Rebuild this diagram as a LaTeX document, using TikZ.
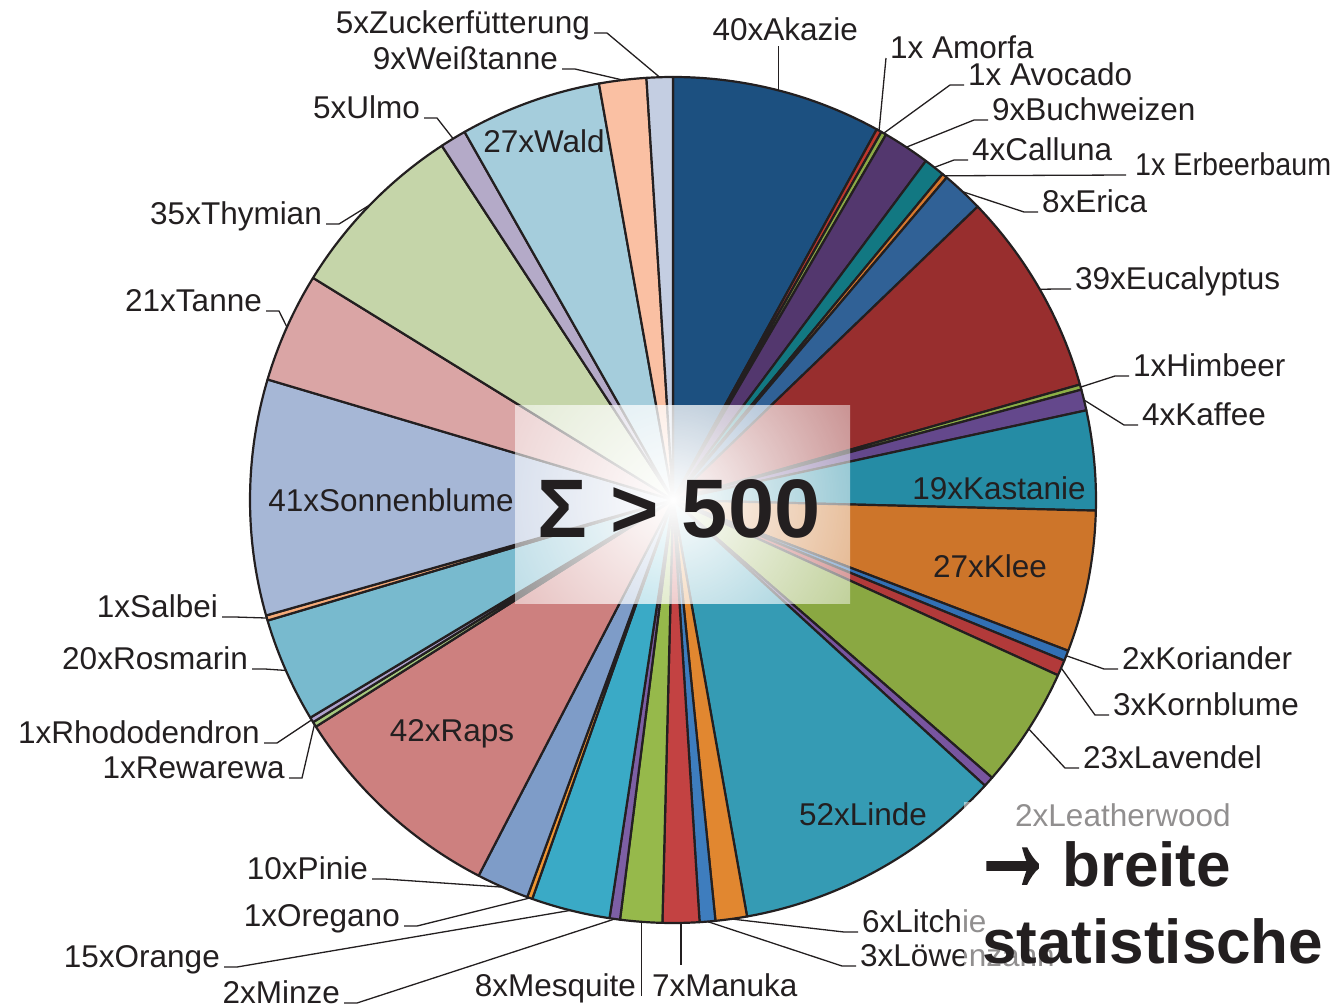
\documentclass[tikz,border=0pt]{standalone}
\usepackage{fontspec}
\setmainfont{Liberation Sans}
\newfontface\arrowface[FakeBold=2.5]{Liberation Sans}
\usetikzlibrary{fadings}

\definecolor{ink}{RGB}{35,31,32}
\definecolor{c-akazie}{RGB}{28,80,128}
\definecolor{c-amorfa}{RGB}{190,55,45}
\definecolor{c-avocado}{RGB}{140,170,70}
\definecolor{c-buchweizen}{RGB}{83,55,110}
\definecolor{c-calluna}{RGB}{18,120,130}
\definecolor{c-erbeer}{RGB}{215,120,45}
\definecolor{c-erica}{RGB}{48,97,150}
\definecolor{c-eucalyptus}{RGB}{152,46,46}
\definecolor{c-himbeer}{RGB}{140,175,70}
\definecolor{c-kaffee}{RGB}{100,72,140}
\definecolor{c-kastanie}{RGB}{37,140,165}
\definecolor{c-klee}{RGB}{205,117,42}
\definecolor{c-koriander}{RGB}{50,112,180}
\definecolor{c-kornblume}{RGB}{178,58,58}
\definecolor{c-lavendel}{RGB}{138,168,66}
\definecolor{c-leather}{RGB}{120,85,160}
\definecolor{c-linde}{RGB}{53,155,180}
\definecolor{c-litchie}{RGB}{225,135,48}
\definecolor{c-loewen}{RGB}{62,125,190}
\definecolor{c-manuka}{RGB}{195,66,66}
\definecolor{c-mesquite}{RGB}{150,185,75}
\definecolor{c-minze}{RGB}{125,95,165}
\definecolor{c-orange}{RGB}{58,170,198}
\definecolor{c-oregano}{RGB}{240,150,50}
\definecolor{c-pinie}{RGB}{126,156,200}
\definecolor{c-raps}{RGB}{205,128,127}
\definecolor{c-rewarewa}{RGB}{165,200,125}
\definecolor{c-rhodo}{RGB}{175,162,205}
\definecolor{c-rosmarin}{RGB}{120,186,206}
\definecolor{c-salbei}{RGB}{245,170,120}
\definecolor{c-sonnenblume}{RGB}{166,183,214}
\definecolor{c-tanne}{RGB}{218,165,165}
\definecolor{c-thymian}{RGB}{197,213,169}
\definecolor{c-ulmo}{RGB}{180,170,200}
\definecolor{c-wald}{RGB}{165,205,220}
\definecolor{c-weiss}{RGB}{250,192,163}
\definecolor{c-zucker}{RGB}{196,206,226}

\tikzfading[name=glowfade, inner color=transparent!0, outer color=transparent!90]

\tikzset{
	lbl/.style={text=ink, inner sep=0pt, font=\fontsize{31.5}{36}\selectfont},
	leader/.style={draw=ink, line width=1.3pt},
	slice/.style={draw=ink, line width=2.2pt, line join=round},
	bigtext/.style={text=ink, inner sep=0pt, font=\bfseries\fontsize{62}{70}\selectfont}
}

\begin{document}
\begin{tikzpicture}[x=1pt, y=-1pt]
		\useasboundingbox (0,0) rectangle (1334,1005);
		
		\def\r{423}
		\def\tot{500}
		
		% Tortenstuecke, im Uhrzeigersinn ab 12 Uhr
		\begin{scope}[shift={(673,500)}]
			\gdef\cum{0}
			\foreach \n/\k in {40/akazie, 1/amorfa, 1/avocado, 9/buchweizen, 4/calluna, 1/erbeer, 8/erica, 39/eucalyptus, 1/himbeer, 4/kaffee, 19/kastanie, 27/klee, 2/koriander, 3/kornblume, 23/lavendel, 2/leather, 52/linde, 6/litchie, 3/loewen, 7/manuka, 8/mesquite, 2/minze, 15/orange, 1/oregano, 10/pinie, 42/raps, 1/rewarewa, 1/rhodo, 20/rosmarin, 1/salbei, 45/sonnenblume, 21/tanne, 35/thymian, 5/ulmo, 27/wald, 9/weiss, 5/zucker}{
				\pgfmathsetmacro\sa{90-\cum/\tot*360}
				\pgfmathsetmacro\sb{90-(\cum+\n)/\tot*360}
				\pgfmathsetmacro\sm{(\sa+\sb)/2}
				\filldraw[slice, fill=c-\k] (0pt,0pt) -- (\sa:\r pt) arc[start angle=\sa, end angle=\sb, radius=\r pt] -- cycle;
				\coordinate (s-\k) at (\sm:\r pt);
				\pgfmathsetmacro\nc{\cum+\n}
				\xdef\cum{\nc}
			}
		\end{scope}
		
		% Lichtfleck in der Mitte
		\begin{scope}
			\clip (515,405) rectangle (850,603);
			\fill[white, path fading=glowfade] (323,150) rectangle (1023,850);
		\end{scope}
		
		\node[text=ink, inner sep=0pt, anchor=base, font=\bfseries\fontsize{83}{90}\selectfont] (sum) at (679,537) {Σ > 500};
		
		% Beschriftungen innen
		\node[lbl, anchor=base] (l-wald) at (544,152) {27xWald};
		\node[lbl, anchor=base] (l-sonnenblume) at (391,511) {41xSonnenblume};
		\node[lbl, anchor=base] (l-raps) at (452,741) {42xRaps};
		\node[lbl, anchor=base] (l-linde) at (863,825) {52xLinde};
		\node[lbl, anchor=base] (l-kastanie) at (999,499) {19xKastanie};
		\node[lbl, anchor=base] (l-klee) at (990,577) {27xKlee};
		
		% Beschriftungen links
		\foreach \k/\x/\y/\t in {zucker/590/33/5xZuckerfütterung, weiss/558/69/9xWeißtanne, ulmo/420/118/5xUlmo, thymian/322/224/35xThymian, tanne/262/311/21xTanne, salbei/218/617/1xSalbei, rosmarin/248/669/20xRosmarin, rhodo/260/743/1xRhododendron, rewarewa/285/778/1xRewarewa, pinie/368/879/10xPinie, oregano/400/926/1xOregano, orange/220/967/15xOrange, minze/340/1003/2xMinze}{
			\node[lbl, anchor=base east] (l-\k) at (\x,\y) {\t};
			\draw[leader] (s-\k) -- ([xshift=17pt]l-\k.base east) -- ([xshift=4pt]l-\k.base east);
		}
		
		% Beschriftungen rechts
		\foreach \k/\x/\y/\t in {amorfa/890/58/1x Amorfa, avocado/968/85/1x Avocado, buchweizen/992/120/9xBuchweizen, calluna/972/160/4xCalluna, erbeer/1135/175/\scalebox{0.91}[1]{1x Erbeerbaum}, erica/1042/212/8xErica, eucalyptus/1075/289/39xEucalyptus, himbeer/1133/376/1xHimbeer, kaffee/1142/425/4xKaffee, koriander/1122/669/2xKoriander, kornblume/1113/715/3xKornblume, lavendel/1083/768/23xLavendel, leather/1015/826/2xLeatherwood, litchie/862/932/6xLitchie, loewen/860/966/3xLöwenzahn}{
			\node[lbl, anchor=base west] (l-\k) at (\x,\y) {\t};
		}
		\foreach \k in {avocado, buchweizen, calluna, erica, eucalyptus, himbeer, kaffee, koriander, kornblume, lavendel, litchie, loewen}{
			\draw[leader] (s-\k) -- ([xshift=-18pt]l-\k.base west) -- ([xshift=-4pt]l-\k.base west);
		}
		\draw[leader] (s-amorfa) -- ([xshift=-4pt]l-amorfa.base west);
		\draw[leader] (s-erbeer) -- ([xshift=-9pt]l-erbeer.base west);
		
		% senkrechte Linien oben und unten
		\node[lbl, anchor=base, xshift=7pt] (l-akazie) at (s-akazie |- 0,40) {40xAkazie};
		\draw[leader] (s-akazie) -- (s-akazie |- 0,46);
		\node[lbl, anchor=base east, xshift=-5pt] (l-mesquite) at (s-mesquite |- 0,996) {8xMesquite};
		\draw[leader] (s-mesquite) -- (s-mesquite |- 0,996);
		\node[lbl, anchor=base west, xshift=-29pt] (l-manuka) at (s-manuka |- 0,996) {7xManuka};
		\draw[leader] (s-manuka) -- (s-manuka |- 0,965);
		
		% Textfeld unten rechts
		\fill[white, opacity=0.5] (964,802) rectangle (1334,1005);
		\node[bigtext, anchor=base west] (pfeil) at (970,890) {\arrowface\fontsize{85}{85}\selectfont\scalebox{1}[1.7]{→}};
		\node[bigtext, anchor=base west] (breite) at (1062,886) {breite};
		\node[bigtext, anchor=base west] (stat) at (982,963) {statistische};
	\end{tikzpicture}
\end{document}
